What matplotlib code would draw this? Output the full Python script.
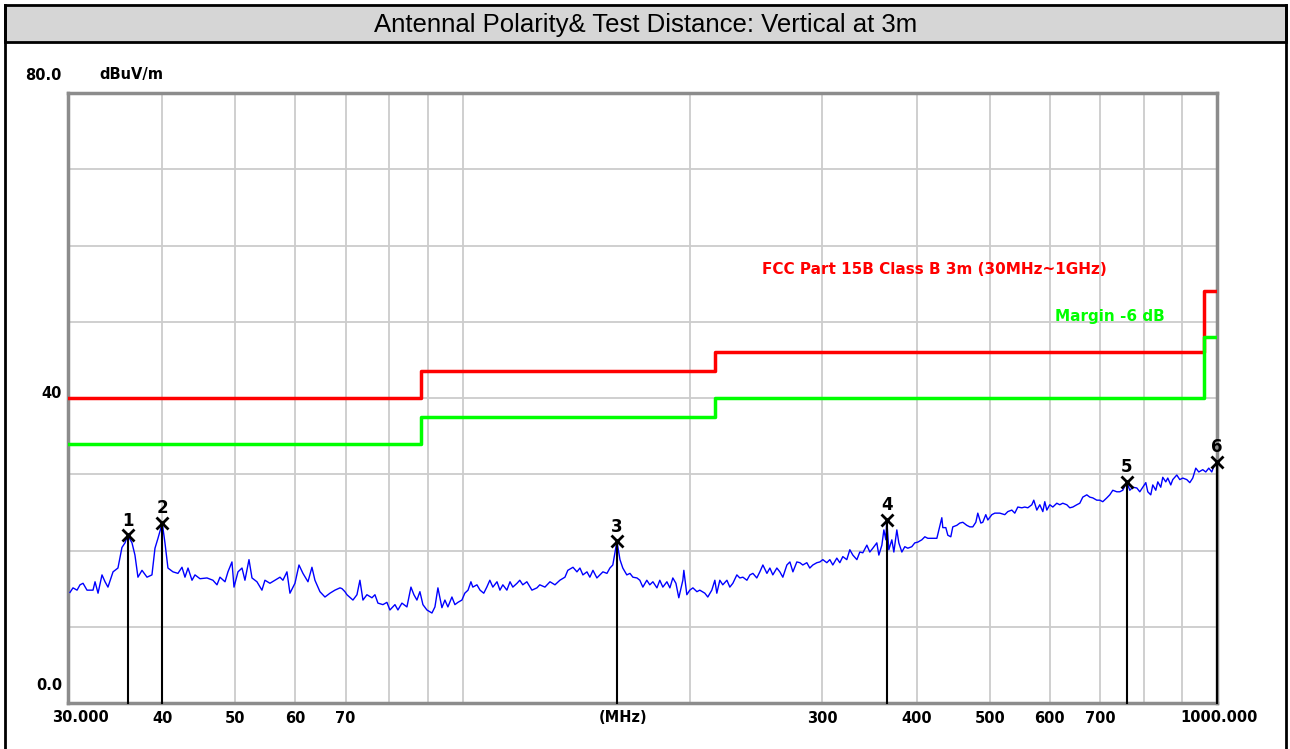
import matplotlib
matplotlib.use('Agg')
import matplotlib.pyplot as plt
from matplotlib.patches import Rectangle
from matplotlib.lines import Line2D

# ---------------- data ----------------
freq_mhz = [
    30.18, 30.46, 30.84, 31.12, 31.41, 31.79, 32.38, 32.58, 32.88, 33.28, 33.59, 33.89, 34.42, 34.94,
    35.37, 35.70, 36.0, 36.47, 36.80, 37.14, 37.60, 38.18, 38.76, 39.12, 39.48, 40.0, 40.33, 40.70,
    41.33, 41.96, 42.48, 42.87, 43.27, 43.80, 44.20, 44.88, 45.85, 46.69, 47.27, 47.70, 48.44, 48.88,
    49.48, 49.79, 50.40, 51.02, 51.48, 52.12, 52.60, 53.40, 54.22, 54.72, 55.56, 56.42, 57.29, 57.81,
    58.52, 59.06, 59.97, 60.71, 61.45, 62.40, 63.16, 63.74, 64.72, 65.72, 66.73, 67.75, 68.80, 69.22,
    69.85, 70.28, 71.58, 72.46, 73.12, 73.80, 74.70, 75.85, 76.55, 77.25, 78.44, 79.40, 80.13, 81.37,
    82.11, 83.12, 84.40, 85.44, 86.22, 87.01, 87.81, 88.62, 89.71, 91.09, 91.93, 92.77, 93.91, 94.77,
    95.64, 96.82, 97.71, 98.61, 99.82, 100.7, 101.7, 102.6, 103.2, 104.5, 105.5, 106.7, 107.7, 108.7,
    109.7, 111.1, 112.1, 113.1, 114.5, 115.6, 116.6, 118.1, 119.1, 120.2, 121.7, 123.6, 125.5, 126.6,
    128.6, 130.6, 132.6, 134.6, 136.7, 137.9, 140.1, 141.8, 143.1, 144.4, 146.2, 147.5, 148.9, 150.7,
    152.1, 153.5, 155.4, 156.8, 158.2, 160.2, 161.7, 163.1, 165.1, 166.7, 168.2, 170.3, 171.8, 173.4,
    175.5, 177.1, 178.8, 181.0, 182.6, 184.3, 186.6, 188.3, 190.0, 191.8, 193.5, 195.9, 196.5, 198.3,
    200.1, 202.0, 204.5, 206.3, 209.5, 211.4, 214.0, 216.0, 217.3, 219.3, 221.3, 224.1, 226.1, 228.2,
    231.0, 233.1, 235.3, 238.2, 240.4, 242.6, 245.5, 247.8, 250.1, 253.2, 255.5, 257.8, 261.0, 263.4,
    265.8, 269.1, 271.6, 274.1, 277.4, 280.0, 282.5, 286.0, 288.6, 291.3, 294.9, 297.6, 300.3, 304.0,
    306.8, 309.6, 313.4, 316.3, 319.2, 323.1, 326.1, 329.1, 333.2, 336.2, 339.3, 343.5, 346.6, 349.8,
    354.1, 356.3, 359.6, 361.8, 364.0, 365.0, 367.3, 370.7, 373.0, 376.4, 378.7, 382.2, 385.7, 389.2,
    394.0, 397.6, 401.3, 406.2, 410.0, 413.7, 420.1, 425.3, 427.9, 431.8, 433.1, 437.1, 439.8, 443.8,
    446.5, 452.0, 456.2, 460.4, 466.0, 470.3, 474.6, 479.0, 481.9, 486.4, 489.3, 493.8, 496.9, 503.0,
    507.6, 515.4, 523.3, 528.1, 534.6, 539.5, 544.5, 551.2, 556.2, 561.4, 568.3, 571.7, 577.0, 582.3,
    587.7, 591.2, 594.9, 600.3, 605.9, 613.3, 618.9, 624.6, 632.3, 638.1, 644.0, 651.9, 657.9, 663.9,
    672.1, 678.3, 684.5, 692.9, 699.3, 705.7, 714.4, 720.9, 727.6, 736.5, 743.3, 750.1, 759.3, 766.3,
    773.4, 782.9, 790.1, 797.3, 804.7, 809.6, 817.0, 822.0, 829.6, 834.7, 842.3, 847.5, 855.3, 860.5,
    868.4, 873.7, 884.5, 892.6, 900.8, 911.9, 920.3, 928.7, 937.3, 945.9, 957.5, 966.3, 975.2, 984.2,
    990.2, 1000.0,
]
level_dbuv = [
    14.5, 15.1, 14.8, 15.5, 15.7, 14.8, 14.8, 15.9, 14.4, 16.8, 15.9, 15.2, 17.2, 17.7,
    20.4, 21.0, 22.0, 21.0, 19.4, 16.5, 17.4, 16.5, 16.8, 20.3, 21.6, 23.6, 21.0, 17.7,
    17.2, 17.0, 17.8, 16.5, 17.7, 16.1, 16.8, 16.3, 16.4, 16.1, 15.5, 16.5, 15.9, 17.2,
    18.5, 15.2, 17.2, 17.7, 16.1, 18.8, 16.4, 15.9, 14.8, 16.1, 15.7, 16.1, 16.5, 16.1,
    17.2, 14.4, 15.7, 18.1, 17.0, 15.9, 17.8, 16.1, 14.6, 13.9, 14.4, 14.8, 15.1, 15.0,
    14.6, 14.2, 13.5, 14.2, 16.1, 13.5, 14.2, 13.8, 14.2, 13.1, 12.9, 13.2, 12.2, 12.9,
    12.2, 13.1, 12.6, 15.2, 14.2, 13.5, 14.6, 12.9, 12.2, 11.8, 12.6, 15.1, 12.5, 13.5,
    12.6, 13.9, 12.9, 13.2, 13.5, 14.4, 14.8, 15.9, 15.2, 15.5, 14.8, 14.4, 15.2, 16.1,
    15.2, 15.9, 14.8, 15.5, 14.8, 15.9, 15.2, 15.7, 16.1, 15.5, 15.9, 14.8, 15.1, 15.5,
    15.2, 15.9, 15.5, 16.1, 16.5, 17.4, 17.8, 17.2, 17.7, 16.8, 17.2, 16.5, 17.4, 16.4,
    16.8, 17.2, 17.0, 17.7, 18.1, 21.2, 18.8, 17.7, 16.8, 17.0, 16.5, 16.4, 16.1, 15.2,
    16.1, 15.5, 15.9, 15.1, 16.1, 15.2, 15.9, 15.1, 16.4, 15.7, 13.8, 16.1, 17.4, 14.2,
    14.8, 15.1, 14.6, 14.8, 14.4, 13.9, 14.8, 16.1, 14.4, 16.1, 15.5, 16.1, 15.2, 15.7,
    16.8, 16.4, 16.5, 16.1, 16.8, 17.0, 16.4, 17.2, 18.1, 17.0, 17.7, 16.8, 17.7, 17.2,
    16.5, 18.1, 18.5, 17.2, 18.5, 18.4, 18.1, 18.4, 17.7, 18.1, 18.4, 18.5, 18.8, 18.4,
    18.8, 18.1, 19.0, 18.4, 19.2, 18.8, 20.1, 19.4, 18.8, 19.8, 19.7, 20.7, 19.8, 20.3,
    21.0, 19.4, 20.7, 22.7, 21.4, 24.0, 20.1, 21.4, 19.8, 22.7, 21.0, 19.8, 20.5, 20.3,
    20.5, 21.0, 21.1, 21.4, 21.8, 21.6, 21.6, 21.6, 22.7, 24.3, 23.0, 23.0, 22.0, 21.8,
    23.1, 23.3, 23.6, 23.7, 23.3, 23.1, 23.1, 23.7, 24.9, 23.6, 23.7, 24.7, 24.0, 24.7,
    24.9, 24.9, 24.7, 25.1, 25.3, 24.9, 25.7, 25.6, 25.7, 25.6, 26.0, 26.6, 25.3, 26.0,
    25.1, 26.4, 25.3, 26.0, 25.7, 26.2, 26.0, 26.2, 26.0, 25.6, 25.7, 26.0, 26.2, 27.0,
    27.3, 27.0, 26.9, 26.6, 26.6, 26.4, 26.9, 27.3, 27.9, 27.7, 27.7, 27.9, 29.0, 27.9,
    28.3, 28.2, 27.7, 28.3, 28.9, 27.7, 27.3, 28.6, 27.9, 29.0, 28.3, 29.6, 29.0, 29.5,
    28.6, 29.3, 29.9, 29.3, 29.5, 29.3, 28.9, 29.5, 30.8, 30.3, 30.6, 30.3, 30.8, 30.3,
    31.0, 31.6,
]

limit_freq = [30, 88, 216, 960, 1000]
limit_level = [40.0, 43.5, 46.0, 54.0, 54.0]
margin_level = [34.0, 37.5, 40.0, 48.0, 48.0]

marker_ids = ['1', '2', '3', '4', '5', '6']
marker_freq = [36.0, 40.0, 160.2, 365.0, 759.3, 1000.0]
marker_level = [22.0, 23.6, 21.2, 24.0, 29.0, 31.6]

grid_freq = [40, 50, 60, 70, 80, 90, 100, 200, 300, 400, 500, 600, 700, 800, 900]
xtick_freq = [40, 50, 60, 70, 300, 400, 500, 600, 700]
xtick_labels = ['40', '50', '60', '70', '300', '400', '500', '600', '700']
grid_level = [10, 20, 30, 40, 50, 60, 70]

title = 'Antennal Polarity& Test Distance: Vertical at 3m'
limit_label = 'FCC Part 15B Class B 3m (30MHz~1GHz)'
margin_label = 'Margin -6 dB'

# ---------------- figure ----------------
W, H = 1290, 749
fig = plt.figure(figsize=(W / 100, H / 100), dpi=100)
fig.patch.set_facecolor('white')

def fx(px):
    return px / W

def fy(py):
    return 1 - py / H

# title band
fig.patches.append(Rectangle((fx(5), fy(42)), fx(1286) - fx(5), fy(5) - fy(42),
                             transform=fig.transFigure, facecolor='#d6d6d6',
                             edgecolor='black', lw=2, zorder=0))
fig.lines.append(Line2D([fx(5), fx(5)], [fy(5), fy(760)], transform=fig.transFigure, color='black', lw=2))
fig.lines.append(Line2D([fx(1286), fx(1286)], [fy(5), fy(760)], transform=fig.transFigure, color='black', lw=2))

fig.text(fx(646), fy(25), title, ha='center', va='center', fontsize=18.5,
         family='Liberation Sans', color='black')

ax = fig.add_axes([fx(68), fy(703), fx(1217) - fx(68), fy(93) - fy(703)])
ax.set_xscale('log')
ax.set_xlim(30, 1000)
ax.set_ylim(0, 80)

for f in grid_freq:
    ax.axvline(f, color='#cccccc', lw=1.3, zorder=1)
for lv in grid_level:
    ax.axhline(lv, color='#cccccc', lw=1.3, zorder=1)

ax.set_xticks(xtick_freq)
ax.set_xticklabels(xtick_labels)
ax.xaxis.set_minor_locator(matplotlib.ticker.NullLocator())
ax.set_yticks([])
ax.tick_params(axis='x', length=0, pad=6, labelsize=10.5)
for lab in ax.get_xticklabels():
    lab.set_fontweight('bold')

for s in ax.spines.values():
    s.set_color('#8c8c8c')
    s.set_linewidth(2.5)

ax.step(limit_freq, limit_level, where='post', color='#ff0000', lw=2.5, zorder=3)
ax.step(limit_freq, margin_level, where='post', color='#00ff00', lw=2.5, zorder=3)

ax.plot(freq_mhz, level_dbuv, color='#0000ff', lw=1.0, zorder=4)

for mid, mf, ml in zip(marker_ids, marker_freq, marker_level):
    ax.plot([mf, mf], [0, ml], color='black', lw=1.5, zorder=5, clip_on=False)
    ax.plot([mf], [ml], marker='x', ms=9, mew=2, color='black', zorder=6, clip_on=False)
    ax.annotate(mid, (mf, ml), xytext=(0, 4), textcoords='offset points',
                ha='center', va='bottom', fontsize=12, fontweight='bold', color='black')

# axis texts
bold = dict(fontweight='bold', fontsize=10.5, color='black')
fig.text(fx(62), fy(75), '80.0', ha='right', va='center', **bold)
fig.text(fx(99), fy(75), 'dBuV/m', ha='left', va='center', **bold)
fig.text(fx(62), fy(393), '40', ha='right', va='center', **bold)
fig.text(fx(62), fy(686), '0.0', ha='right', va='center', **bold)
fig.text(fx(80), fy(717), '30.000', ha='center', va='center', **bold)
fig.text(fx(1219), fy(717), '1000.000', ha='center', va='center', **bold)
fig.text(fx(623), fy(717), '(MHz)', ha='center', va='center', **bold)

fig.text(fx(762), fy(270), limit_label, ha='left', va='center', fontsize=11,
         fontweight='bold', color='#ff0000')
fig.text(fx(1055), fy(317), margin_label, ha='left', va='center', fontsize=11,
         fontweight='bold', color='#00ff00')

fig.savefig('out.png', dpi=100)
